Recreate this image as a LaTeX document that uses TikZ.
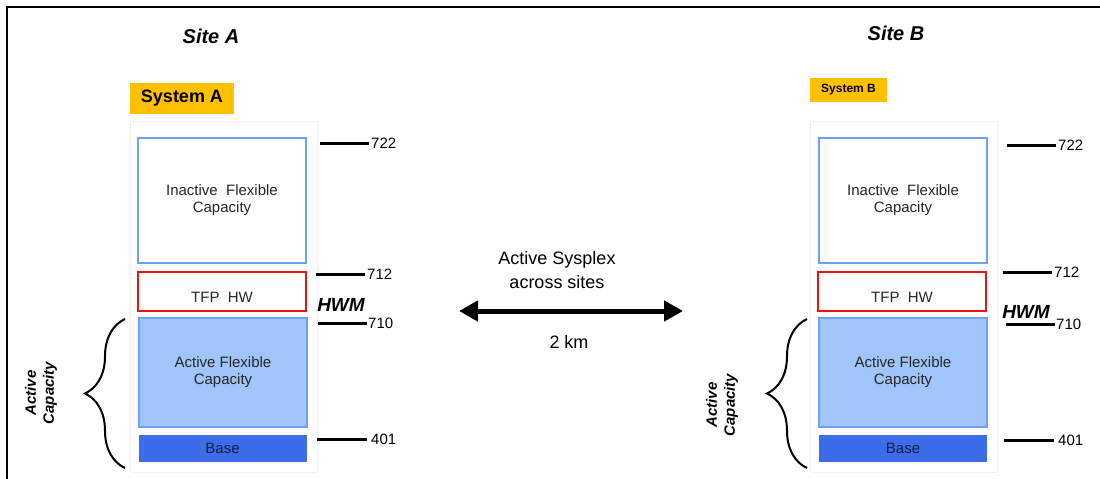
\documentclass[tikz,border=0pt]{standalone}
\usepackage{fontspec}
\setmainfont{Liberation Sans}
\usetikzlibrary{arrows.meta,decorations.pathreplacing}
\definecolor{sysorange}{HTML}{FFC000}
\definecolor{boxblue}{HTML}{6FA0F5}
\definecolor{activefill}{HTML}{9FC5FA}
\definecolor{basefill}{HTML}{3C6CE8}
\definecolor{tfpred}{HTML}{F01010}
\definecolor{basetext}{HTML}{10204A}
\tikzset{
  sitetitle/.style={font=\fontsize{20}{22}\selectfont\bfseries\itshape, inner sep=0pt},
  sysbox/.style={fill=sysorange, inner sep=0pt},
  column/.style={draw=black!8, densely dotted, line width=0.6pt},
  inactivebox/.style={draw=boxblue, line width=2pt, minimum width=168pt, minimum height=125pt, inner sep=0pt},
  tfpbox/.style={draw=tfpred, line width=2pt, minimum width=168pt, minimum height=39pt, inner sep=0pt},
  activebox/.style={draw=boxblue, fill=activefill, line width=2pt, minimum width=168pt, minimum height=109pt, inner sep=0pt},
  basebox/.style={fill=basefill, minimum width=168pt, minimum height=27pt, inner sep=0pt, text=basetext},
  boxtext/.style={font=\fontsize{15}{17}\selectfont, align=center, text=black!85},
  ticklabel/.style={font=\fontsize{15}{17}\selectfont, anchor=west, inner sep=0pt},
  tick/.style={line width=3pt},
  hwm/.style={font=\fontsize{19}{21}\selectfont\bfseries\itshape, inner sep=0pt},
  capbrace/.style={decorate, decoration={brace, amplitude=40pt, aspect=0.5}, line width=2pt},
  caplabel/.style={font=\fontsize{15}{18}\selectfont\bfseries\itshape, align=center, rotate=90, inner sep=0pt},
  linklabel/.style={font=\fontsize{18}{24}\selectfont, align=center, inner sep=0pt}
}
\begin{document}
\begin{tikzpicture}[x=1pt, y=-1pt]
\useasboundingbox (0,0) rectangle (1100,479);
% frame (only top and left edges show)
\draw[line width=1.2pt] (7,479) -- (7,7) -- (1100,7);

% ---- Site A ----
\node[sitetitle] (siteA) at (211,36) {Site A};
\node[sysbox, minimum width=104pt, minimum height=31pt, font=\fontsize{18}{20}\selectfont\bfseries] (sysA) at (182,98.5) {System A};
\draw[column] (130,121) rectangle (317,472);
\node[inactivebox] (inactA) at (222,200.5) {};
\node[boxtext] (inactAtxt) at (inactA.center) {Inactive\ \ Flexible\\Capacity};
\node[tfpbox] (tfpA) at (222,291.5) {};
\node[boxtext] (tfpAtxt) at (222,297) {TFP\ \ HW};
\node[activebox] (actA) at (223,372.5) {};
\node[boxtext] (actAtxt) at (actA.center) {Active Flexible\\Capacity};
\node[basebox, font=\fontsize{15}{17}\selectfont] (baseA) at (222.5,448.5) {Base};
% levels
\node[ticklabel] (l722A) at (371,143) {722};
\node[ticklabel] (l712A) at (367,274) {712};
\node[ticklabel] (l710A) at (368,323) {710};
\node[ticklabel] (l401A) at (371,439) {401};
\draw[tick] ([xshift=-2pt]l722A.west) -- ++(-49,0);
\draw[tick] ([xshift=-2pt]l712A.west) -- ++(-49,0);
\draw[tick] ([xshift=-1pt]l710A.west) -- ++(-49,0);
\draw[tick] ([xshift=-4pt]l401A.west) -- ++(-50,0);
\node[hwm] (hwmA) at (341,305) {HWM};
% active capacity brace
\coordinate (brAbot) at (125,468);
\coordinate (brAtop) at (125,319);
\draw[capbrace] (brAbot) -- (brAtop);
\node[caplabel] (capA) at (41,393) {Active\\Capacity};

% ---- link between sites ----
\node[linklabel] (link) at (557,270) {Active Sysplex\\across sites};
\coordinate (linkL) at (459,311);
\coordinate (linkR) at (683,311);
\draw[line width=5pt, {Triangle[length=19pt,width=20pt]}-{Triangle[length=19pt,width=20pt]}] (linkL) -- (linkR);
\node[linklabel] (dist) at (569,342) {2 km};

% ---- Site B ----
\node[sitetitle] (siteB) at (896,33) {Site B};
\node[sysbox, minimum width=77pt, minimum height=24pt, font=\fontsize{12}{14}\selectfont\bfseries] (sysB) at (848.5,90) {System B};
\draw[column] (810,121) rectangle (997,472);
\node[inactivebox] (inactB) at (903,200.5) {};
\node[boxtext] (inactBtxt) at (inactB.center) {Inactive\ \ Flexible\\Capacity};
\node[tfpbox] (tfpB) at (902,291.5) {};
\node[boxtext] (tfpBtxt) at (902,297) {TFP\ \ HW};
\node[activebox] (actB) at (903,372.5) {};
\node[boxtext] (actBtxt) at (actB.center) {Active Flexible\\Capacity};
\node[basebox, font=\fontsize{15}{17}\selectfont] (baseB) at (903,448.5) {Base};
% levels
\node[ticklabel] (l722B) at (1058,145) {722};
\node[ticklabel] (l712B) at (1054,272) {712};
\node[ticklabel] (l710B) at (1056,324) {710};
\node[ticklabel] (l401B) at (1058,440) {401};
\draw[tick] ([xshift=-2pt]l722B.west) -- ++(-49,0);
\draw[tick] ([xshift=-2pt]l712B.west) -- ++(-49,0);
\draw[tick] ([xshift=-1pt]l710B.west) -- ++(-49,0);
\draw[tick] ([xshift=-4pt]l401B.west) -- ++(-50,0);
\node[hwm] (hwmB) at (1026,312) {HWM};
% active capacity brace
\coordinate (brBbot) at (807,468);
\coordinate (brBtop) at (807,319);
\draw[capbrace] (brBbot) -- (brBtop);
\node[caplabel] (capB) at (722,405) {Active\\Capacity};
\end{tikzpicture}
\end{document}
